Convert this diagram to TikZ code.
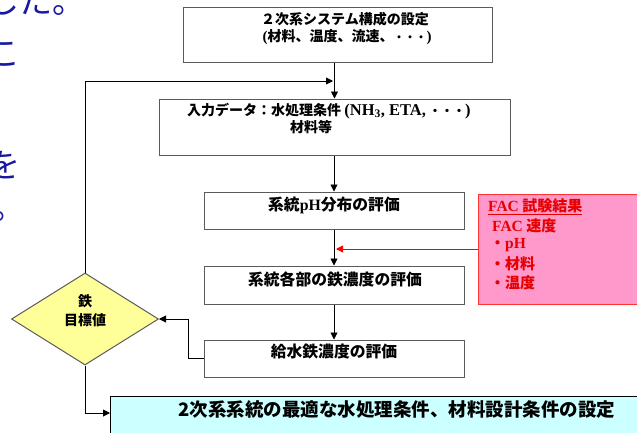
\documentclass[tikz,border=0pt]{standalone}
\usepackage{fontspec}
\newfontfamily\jp{Noto Sans CJK JP}
\newfontfamily\lat{Liberation Serif}
\usetikzlibrary{arrows.meta,shapes.geometric}
\definecolor{boxline}{RGB}{90,90,90}
\definecolor{bluetxt}{RGB}{24,24,160}
\definecolor{pinkfill}{RGB}{255,153,204}
\definecolor{pinkline}{RGB}{255,51,51}
\definecolor{redtxt}{RGB}{230,0,0}
\definecolor{cyanfill}{RGB}{204,255,255}
\definecolor{yellowfill}{RGB}{255,255,153}
\tikzset{
  stepbox/.style={draw=boxline, line width=1pt, fill=white, rectangle, inner sep=0pt},
  arr/.style={draw=black, line width=0.9pt, -{Triangle[length=7pt,width=7pt]}},
  redarr/.style={draw=red, line width=0.9pt, -{Triangle[length=7pt,width=7pt]}},
  boxtxt/.style={font=\jp\bfseries\fontsize{15.8}{18}\selectfont, inner sep=0pt},
  smalltxt/.style={font=\jp\bfseries\fontsize{14}{16}\selectfont, inner sep=0pt},
  pinktxt/.style={font=\jp\bfseries\fontsize{15}{17}\selectfont, text=redtxt, inner sep=0pt, anchor=west},
  bluefrag/.style={font=\jp\fontsize{33}{36}\selectfont, text=bluetxt, inner sep=0pt}
}
\newcommand{\latb}[1]{{\lat\bfseries #1}}
\begin{document}
\begin{tikzpicture}[x=1pt,y=-1pt]
\useasboundingbox (0,0) rectangle (637,432);
\clip (0,0) rectangle (637,432);
\fill[white] (0,0) rectangle (637,432);

% blue fragments of slide text at the left edge
\node[bluefrag, anchor=base east] (bf1) at (86,13) {した。};
\node[bluefrag, anchor=base east] (bf2) at (21,65.5) {こ};
\node[bluefrag, anchor=base east] (bf3) at (21,177) {を};
\node[bluefrag, anchor=base west] (bf4) at (-7.5,219) {。};

% boxes
\node[stepbox, minimum width=309pt, minimum height=55pt] (b1) at (337.5,34.5) {};
\node[stepbox, minimum width=351pt, minimum height=56pt] (b2) at (334.5,127) {};
\node[stepbox, minimum width=260pt, minimum height=37pt] (b3) at (334,210.5) {};
\node[stepbox, minimum width=260pt, minimum height=38pt] (b4) at (334,285) {};
\node[stepbox, minimum width=260pt, minimum height=37pt] (b5) at (334,358.5) {};

% box texts
\node[smalltxt] (t1a) at (345,19) {２次系システム構成の設定};
\node[smalltxt] (t1b) at (347,37) {\latb{\fontsize{15}{16}\selectfont(}材料、温度、流速、{\fontsize{11}{12}\selectfont ・・・}\latb{\fontsize{15}{16}\selectfont)}};
\node[smalltxt, anchor=west] (t2a) at (187,111) {入力データ：水処理条件 \latb{\fontsize{16.5}{18}\selectfont (NH\textsubscript{3}, ETA,} {\fontsize{12}{14}\selectfont ・・・}\latb{\fontsize{16.5}{18}\selectfont )}};
\node[smalltxt, anchor=west] (t2b) at (290,127) {材料等};
\node[boxtxt] (t3) at (334,205) {系統\latb{pH}分布の評価};
\node[boxtxt] (t4) at (335,279) {系統各部の鉄濃度の評価};
\node[boxtxt] (t5) at (334,352) {給水鉄濃度の評価};

% pink FAC box
\node[draw=pinkline, line width=1pt, fill=pinkfill, rectangle, inner sep=0pt,
      minimum width=180pt, minimum height=110pt] (fac) at (568,249) {};
\node[pinktxt] (f1) at (488,207) {\underline{\latb{\fontsize{15.5}{17}\selectfont FAC} 試験結果}};
\node[pinktxt] (f2) at (492,226) {\latb{\fontsize{15.5}{17}\selectfont FAC} 速度};
\node[pinktxt] (f3) at (490,245) {・\latb{\fontsize{15.5}{17}\selectfont pH}};
\node[pinktxt] (f4) at (490,264) {・材料};
\node[pinktxt] (f5) at (490,283) {・温度};

% decision diamond
\node[diamond, draw=boxline, line width=1pt, fill=yellowfill, inner sep=0pt,
      minimum width=147pt, minimum height=92pt] (dia) at (85,319) {};
\node[smalltxt] (d1) at (85,301) {鉄};
\node[smalltxt] (d2) at (85,320) {目標値};

% final cyan box
\node[draw=black, line width=1pt, fill=cyanfill, rectangle, inner sep=0pt,
      minimum width=560pt, minimum height=60pt, anchor=north west] (fin) at (110,396) {};
\node[font=\jp\bfseries\fontsize{18.5}{22}\selectfont, inner sep=0pt] (tf) at (397,410)
  {2次系系統の最適な水処理条件、材料設計条件の設定};

% connectors
\coordinate (j1) at (334,81);
\coordinate (c5) at (188,358.5);
\coordinate (cf) at (110,413);
\draw[arr] (b1.south -| b2.north) -- (b2.north);
\draw[arr] (b2.south -| b3.north) -- (b3.north);
\draw[arr] (b3.south) -- (b4.north);
\draw[arr] (b4.south) -- (b5.north);
\draw[arr] (dia.north) |- ([xshift=-1pt]j1);
\draw[redarr] (fac.west) -- ([xshift=2pt]fac.west -| b3.south);
\draw[arr] (b5.west) -- (c5) |- (dia.east);
\draw[arr] (dia.south) |- (cf);
\end{tikzpicture}
\end{document}
